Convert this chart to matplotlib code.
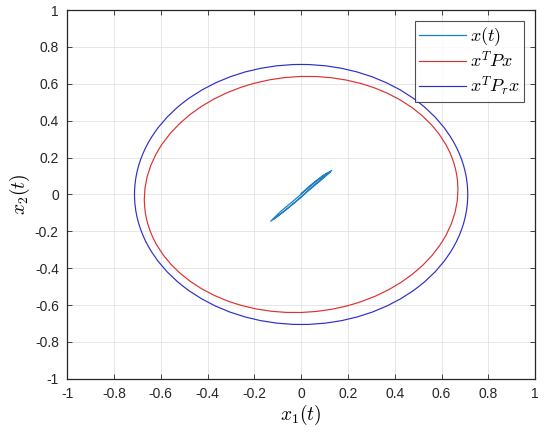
import matplotlib
matplotlib.use("Agg")
import matplotlib.pyplot as plt
from matplotlib.patches import Ellipse

# trajectory x(t) (narrow loop around the origin)
x1_traj = [0.0, 0.04, 0.09, 0.131, 0.10, 0.05, 0.0, -0.05, -0.10, -0.13,
           -0.09, -0.04, 0.01, 0.06, 0.11, 0.125, 0.08, 0.03, -0.02, -0.07, -0.115]
x2_traj = [0.005, 0.05, 0.10, 0.13, 0.098, 0.045, -0.015, -0.068, -0.118, -0.145,
           -0.095, -0.042, 0.012, 0.068, 0.115, 0.122, 0.072, 0.02, -0.035, -0.088, -0.132]

# level-set ellipses: (center_x, center_y, width, height, angle_deg)
ell_P = (0.0, 0.0, 1.35, 1.27, 21.0)
ell_Pr = (0.0, 0.0, 1.424, 1.41, 0.0)

ticks = [-1, -0.8, -0.6, -0.4, -0.2, 0, 0.2, 0.4, 0.6, 0.8, 1]
tick_labels = ["-1", "-0.8", "-0.6", "-0.4", "-0.2", "0", "0.2", "0.4", "0.6", "0.8", "1"]

plt.rcParams['mathtext.fontset'] = 'cm'
plt.rcParams['font.family'] = ['Liberation Sans', 'DejaVu Sans']

fig = plt.figure(figsize=(5.5, 4.37), dpi=100)
ax = fig.add_axes([0.122, 0.133, 0.851, 0.844])

c_traj = '#1F7FC0'
c_red = '#DD3030'
c_blue = '#2E2EC8'

line_x, = ax.plot(x1_traj, x2_traj, color=c_traj, lw=0.9, label='$x(t)$')
e1 = Ellipse(ell_P[:2], ell_P[2], ell_P[3], angle=ell_P[4], fill=False,
             edgecolor=c_red, lw=0.85)
e2 = Ellipse(ell_Pr[:2], ell_Pr[2], ell_Pr[3], angle=ell_Pr[4], fill=False,
             edgecolor=c_blue, lw=0.85)
ax.add_patch(e1)
ax.add_patch(e2)
h1, = ax.plot([], [], color=c_red, lw=0.85, label='$x^TPx$')
h2, = ax.plot([], [], color=c_blue, lw=0.85, label='$x^TP_rx$')

ax.set_xlim(-1, 1)
ax.set_ylim(-1, 1)
ax.set_xticks(ticks)
ax.set_xticklabels(tick_labels)
ax.set_yticks(ticks)
ax.set_yticklabels(tick_labels)
ax.grid(True, color='#E3E3E3', lw=0.6)
ax.set_axisbelow(True)
ax.tick_params(direction='in', length=3.5, width=0.6, top=True, right=True,
               labelsize=10, colors='#262626', pad=6)
for s in ax.spines.values():
    s.set_color('#262626')
    s.set_linewidth(0.9)

ax.set_xlabel('$x_1(t)$', fontsize=14, labelpad=1)
ax.set_ylabel('$x_2(t)$', fontsize=14, labelpad=2)

leg = ax.legend(handles=[line_x, h1, h2], loc='upper right', fontsize=13,
                frameon=True, fancybox=False, edgecolor='#262626',
                handlelength=2.6, handletextpad=0.2, borderpad=0.25,
                labelspacing=0.15, borderaxespad=0.6)
leg.get_frame().set_linewidth(0.8)

fig.savefig('out.png', dpi=100)
